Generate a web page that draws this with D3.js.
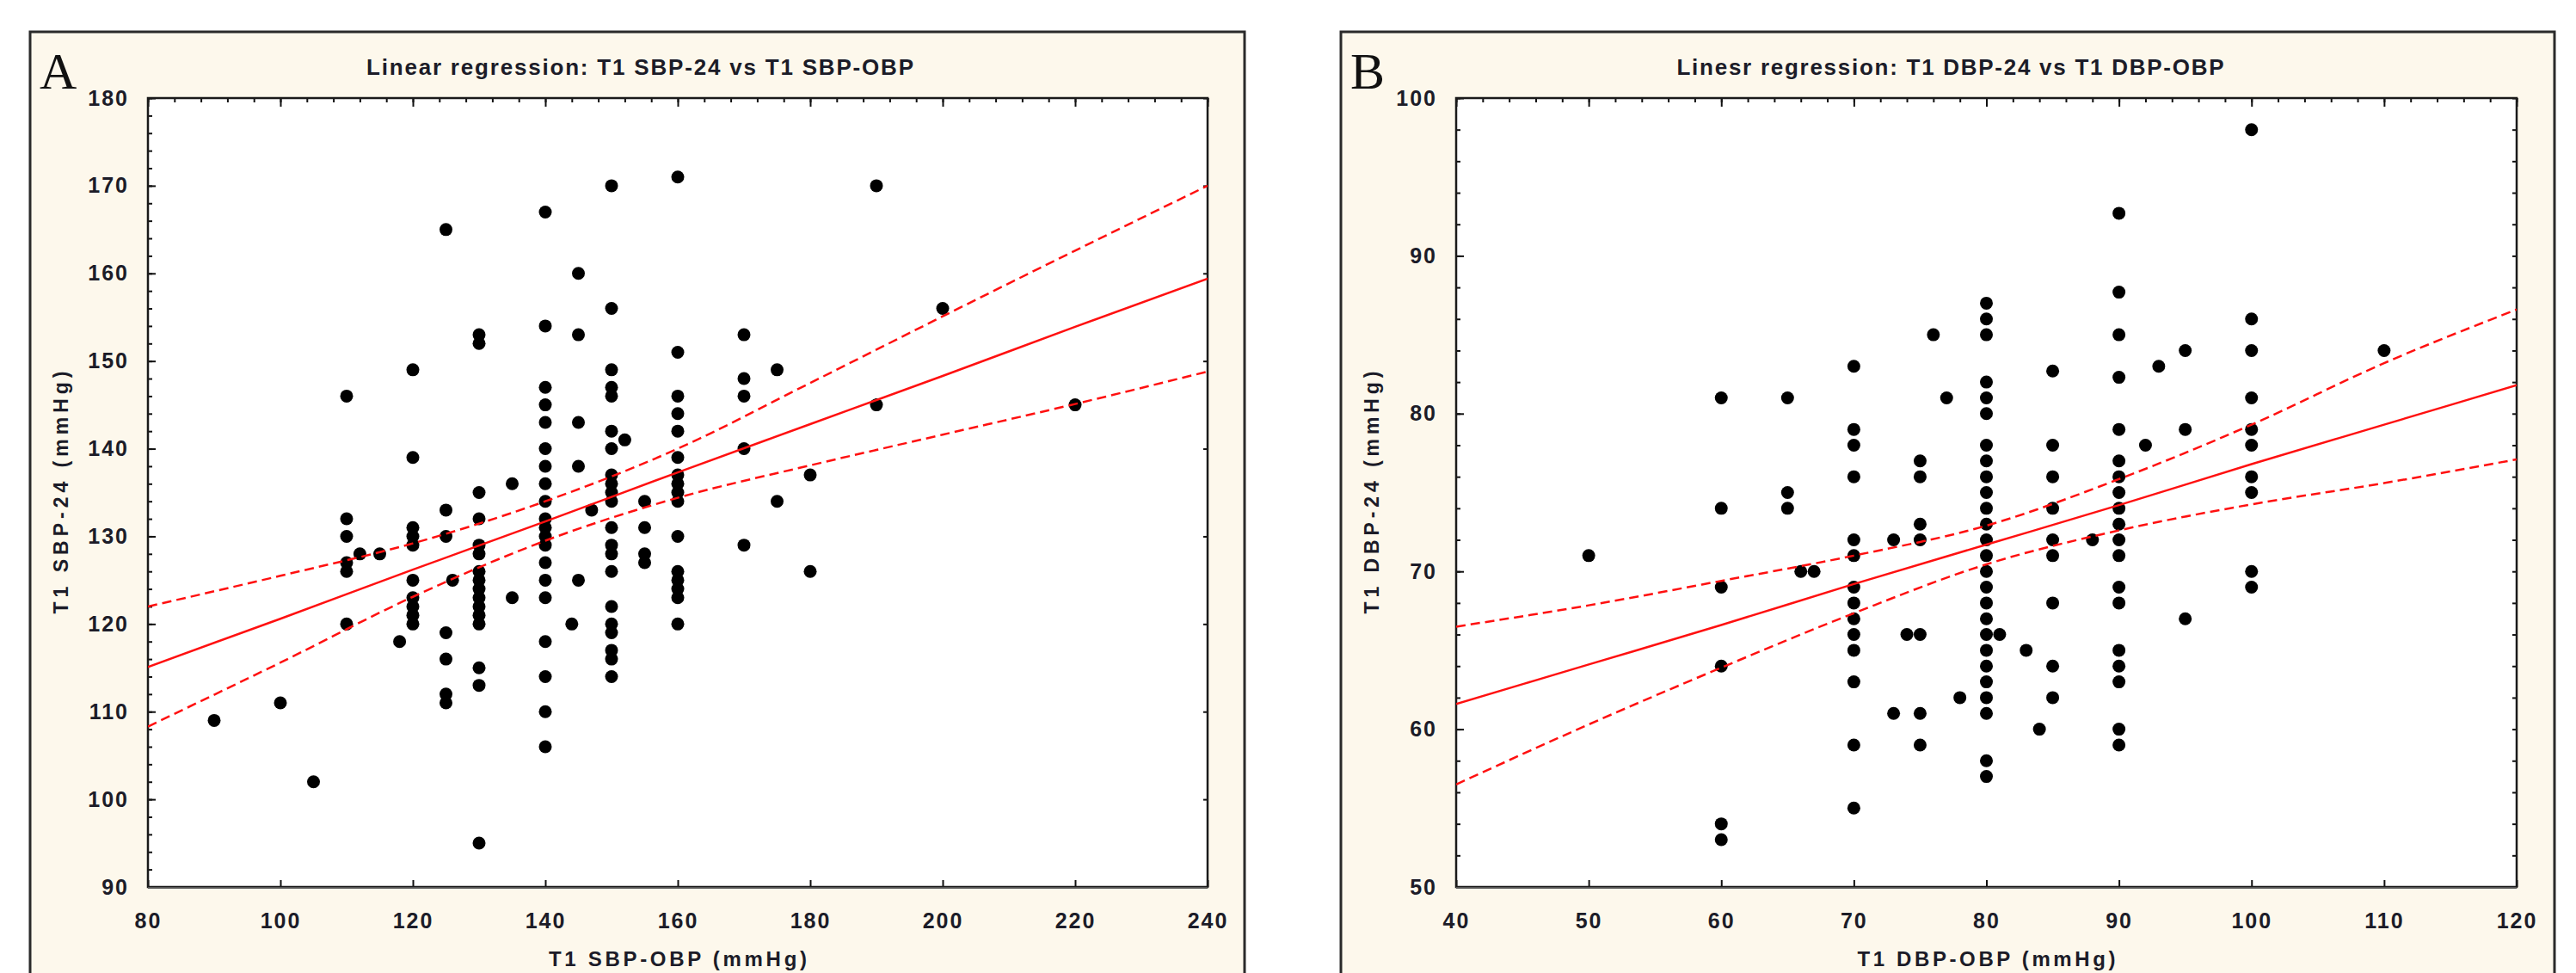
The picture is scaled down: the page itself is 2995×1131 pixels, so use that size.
<!DOCTYPE html>
<html>
<head>
<meta charset="utf-8">
<script src="https://cdn.jsdelivr.net/npm/d3@7"></script>
<style>
  body { margin: 0; background: #fff; }
  svg { display: block; }
</style>
</head>
<body>
<div id="my_dataviz"></div>
<script>
// ---- panel A : T1 SBP-OBP (x) vs T1 SBP-24 (y)
var sbpObp = [90,100,105,
  110,110,110,110,110,110,112,115,118,
  120,120,120,120,120,120,120,120,120,120,
  125,125,125,126,125,125,125,125,
  130,130,130,130,130,130,130,130,130,130,130,130,130,130,130,130,
  135,135,
  140,140,140,140,140,140,140,140,140,140,140,140,140,140,140,140,140,140,140,140,
  144,145,145,145,145,145,147,
  150,150,150,150,150,150,150,150,150,150,150,150,150,150,150,150,150,150,150,150,150,
  152,155,155,155,155,
  160,160,160,160,160,160,160,160,160,160,160,160,160,160,160,160,
  170,170,170,170,170,175,175,180,180,190,190,200,220];
var sbp24 = [109,111,102,
  146,132,130,127,126,120,128,128,118,
  149,139,131,130,129,125,123,122,121,120,
  165,133,130,125,119,116,112,111,
  153,152,135,132,129,128,126,125,124,123,122,121,120,115,113,95,
  136,123,
  167,154,147,145,143,140,138,136,134,132,131,130,129,127,125,123,118,114,110,106,
  120,160,153,143,138,125,133,
  170,156,149,147,146,142,140,137,136,135,134,131,129,128,126,122,120,119,117,116,114,
  141,134,131,128,127,
  171,151,146,144,142,139,137,136,135,134,130,126,125,124,123,120,
  153,148,146,140,129,149,134,137,126,170,145,156,145];

// regression line and 95% band
var sbpLineX = [80,100,120,140,160,180,200,220,240];
var sbpFit   = [115.1,120.6,126.2,131.7,137.3,142.8,148.3,153.9,159.4];
var sbpUpper = [122.0,125.5,129.2,134.0,140.0,147.5,155.1,162.6,170.0];
var sbpLower = [108.3,115.6,123.1,129.5,134.4,138.1,141.6,145.1,148.8];

var sbpXTicks = [80,100,120,140,160,180,200,220,240];
var sbpYTicks = [90,100,110,120,130,140,150,160,170,180];

// ---- panel B : T1 DBP-OBP (x) vs T1 DBP-24 (y)
var dbpObp = [50,
  60,60,60,60,60,60,65,65,65,66,67,
  70,70,70,70,70,70,70,70,70,70,70,70,70,70,
  73,73,74,75,75,75,75,75,75,75,76,77,78,
  80,80,80,80,80,80,80,80,80,80,80,80,80,80,80,80,80,80,80,80,80,80,80,80,80,80,
  81,83,84,
  85,85,85,85,85,85,85,85,85,88,
  90,90,90,90,90,90,90,90,90,90,90,90,90,90,90,90,90,90,90,
  92,93,95,95,95,
  100,100,100,100,100,100,100,100,100,100,110];
var dbp24 = [71,
  81,74,69,64,54,53,81,75,74,70,70,
  83,79,78,76,72,71,69,68,67,66,65,63,59,55,
  72,61,66,77,76,73,72,66,61,59,85,81,62,
  87,86,85,82,81,80,78,77,76,75,74,73,72,71,70,69,68,67,66,65,64,63,62,61,58,57,
  66,65,60,
  82.7,78,76,74,72,71,68,64,62,72,
  92.7,87.7,85,82.3,79,77,76,75,74,73,72,71,69,68,65,64,63,60,59,
  78,83,84,79,67,
  98,86,84,81,79,78,76,75,70,69,84];

var dbpLineX = [40,50,60,70,80,90,100,110,120];
var dbpFit   = [61.6,64.1,66.6,69.2,71.7,74.2,76.8,79.3,81.8];
var dbpUpper = [66.5,67.85,69.4,71.0,72.9,75.85,79.3,83.2,86.6];
var dbpLower = [56.5,60.3,63.9,67.35,70.45,72.6,74.25,75.6,77.1];

var dbpXTicks = [40,50,60,70,80,90,100,110,120];
var dbpYTicks = [50,60,70,80,90,100];

// ---- page
var W = 2995, H = 1131;
var plotTop = 114, plotBottom = 1031;
var labelFont = "'Liberation Sans', Arial, sans-serif";

var svg = d3.select("#my_dataviz")
    .append("svg")
    .attr("width", W)
    .attr("height", H);

svg.append("rect").attr("width", W).attr("height", H).attr("fill", "#fff");

function drawPanel(p) {
    // frame
    svg.append("rect")
        .attr("x", p.frameLeft).attr("y", 37)
        .attr("width", p.frameRight - p.frameLeft)
        .attr("height", 1200)
        .attr("fill", "#fdf8ec")
        .attr("stroke", "#2a2a2a")
        .attr("stroke-width", 3);

    var x = d3.scaleLinear().domain(p.xDomain).range([p.left, p.right]);
    var y = d3.scaleLinear().domain(p.yDomain).range([plotBottom, plotTop]);

    svg.append("rect")
        .attr("x", p.left).attr("y", plotTop)
        .attr("width", p.right - p.left)
        .attr("height", plotBottom - plotTop)
        .attr("fill", "#fff");

    // panel letter
    svg.append("text")
        .attr("x", p.frameLeft + 11).attr("y", 103)
        .style("font-family", "'Liberation Serif', 'Times New Roman', serif")
        .style("font-size", "60px")
        .attr("fill", "#111")
        .text(p.letter);

    // title
    svg.append("text")
        .attr("x", (p.frameLeft + p.frameRight) / 2 + 3).attr("y", 87)
        .attr("text-anchor", "middle")
        .attr("textLength", 636).attr("lengthAdjust", "spacing")
        .style("font-family", labelFont)
        .style("font-size", "26px").style("font-weight", "bold")
        .attr("fill", "#1c1c28")
        .text(p.title);

    // axes (ticks point inward)
    function styleAxis(g) {
        g.select(".domain").remove();
        g.selectAll(".tick line").attr("stroke", "#111").attr("stroke-width", 2);
        g.selectAll("text")
            .style("font-family", labelFont)
            .style("font-size", "25px").style("font-weight", "bold")
            .style("letter-spacing", "2px")
            .attr("fill", "#1c1c28");
    }

    svg.append("g").attr("transform", "translate(0," + plotBottom + ")")
        .call(d3.axisBottom(x).tickValues(p.xTicks).tickSize(-8).tickPadding(30).tickSizeOuter(0))
        .call(styleAxis);
    svg.append("g").attr("transform", "translate(" + p.left + ",0)")
        .call(d3.axisLeft(y).tickValues(p.yTicks).tickSize(-9).tickPadding(22).tickSizeOuter(0))
        .call(styleAxis);
    svg.append("g").attr("transform", "translate(" + p.left + ",0)")
        .call(d3.axisLeft(y).tickValues(p.yMinorLeft).tickSize(-5).tickFormat("").tickSizeOuter(0))
        .call(styleAxis);
    svg.append("g").attr("transform", "translate(0," + plotTop + ")")
        .call(d3.axisTop(x).tickValues(p.xTicks).tickSize(-10).tickFormat("").tickSizeOuter(0))
        .call(styleAxis);
    svg.append("g").attr("transform", "translate(0," + plotTop + ")")
        .call(d3.axisTop(x).tickValues(p.xMinorTop).tickSize(-5).tickFormat("").tickSizeOuter(0))
        .call(styleAxis);
    svg.append("g").attr("transform", "translate(" + p.right + ",0)")
        .call(d3.axisRight(y).tickValues(p.yMinorRight).tickSize(-5).tickFormat("").tickSizeOuter(0))
        .call(styleAxis);

    // plot border
    svg.append("rect")
        .attr("x", p.left).attr("y", plotTop)
        .attr("width", p.right - p.left)
        .attr("height", plotBottom - plotTop)
        .attr("fill", "none")
        .attr("stroke", "#1a1a1a")
        .attr("stroke-width", 2.5);
    svg.append("line")
        .attr("x1", p.left).attr("x2", p.right)
        .attr("y1", plotBottom + 1).attr("y2", plotBottom + 1)
        .attr("stroke", "#555").attr("stroke-width", 2);

    // axis titles
    svg.append("text")
        .attr("transform", "translate(" + (p.frameLeft + 44) + "," + ((plotTop + plotBottom) / 2) + ") rotate(-90)")
        .attr("text-anchor", "middle")
        .attr("textLength", 282).attr("lengthAdjust", "spacing")
        .style("font-family", labelFont)
        .style("font-size", "23px").style("font-weight", "bold")
        .attr("fill", "#1c1c28")
        .text(p.yTitle);
    svg.append("text")
        .attr("x", (p.left + p.right) / 2).attr("y", 1123)
        .attr("text-anchor", "middle")
        .attr("textLength", 300).attr("lengthAdjust", "spacing")
        .style("font-family", labelFont)
        .style("font-size", "24px").style("font-weight", "bold")
        .attr("fill", "#1c1c28")
        .text(p.xTitle);

    // points
    var clipId = "clip" + p.letter;
    svg.append("clipPath").attr("id", clipId)
        .append("rect")
        .attr("x", p.left).attr("y", plotTop)
        .attr("width", p.right - p.left)
        .attr("height", plotBottom - plotTop);

    var g = svg.append("g").attr("clip-path", "url(#" + clipId + ")");

    g.selectAll("circle")
        .data(p.xs.map(function(d, i) { return [d, p.ys[i]]; }))
        .enter()
        .append("circle")
        .attr("cx", function(d) { return x(d[0]); })
        .attr("cy", function(d) { return y(d[1]); })
        .attr("r", 7.5)
        .attr("fill", "#000");

    // regression line + confidence band
    var line = d3.line()
        .x(function(d) { return x(d[0]); })
        .y(function(d) { return y(d[1]); })
        .curve(d3.curveMonotoneX);

    [[p.fit, null], [p.upper, "11,6"], [p.lower, "11,6"]].forEach(function(s) {
        g.append("path")
            .datum(p.lineX.map(function(v, i) { return [v, s[0][i]]; }))
            .attr("d", line)
            .attr("fill", "none")
            .attr("stroke", "#ff1010")
            .attr("stroke-width", 2.5)
            .attr("stroke-dasharray", s[1]);
    });
}

drawPanel({
    letter: "A", frameLeft: 35, frameRight: 1447, left: 172, right: 1404,
    xDomain: [80, 240], yDomain: [90, 180],
    xTicks: sbpXTicks, yTicks: sbpYTicks,
    xMinorTop: d3.range(80, 241, 4), yMinorLeft: d3.range(90, 181, 2), yMinorRight: sbpYTicks,
    xs: sbpObp, ys: sbp24,
    lineX: sbpLineX, fit: sbpFit, upper: sbpUpper, lower: sbpLower,
    title: "Linear regression: T1 SBP-24 vs T1 SBP-OBP",
    xTitle: "T1 SBP-OBP (mmHg)", yTitle: "T1 SBP-24 (mmHg)"
});

drawPanel({
    letter: "B", frameLeft: 1559, frameRight: 2970, left: 1693, right: 2926,
    xDomain: [40, 120], yDomain: [50, 100],
    xTicks: dbpXTicks, yTicks: dbpYTicks,
    xMinorTop: d3.range(40, 121, 2), yMinorLeft: d3.range(50, 101, 2), yMinorRight: d3.range(50, 101, 2),
    xs: dbpObp, ys: dbp24,
    lineX: dbpLineX, fit: dbpFit, upper: dbpUpper, lower: dbpLower,
    title: "Linesr regression: T1 DBP-24 vs T1 DBP-OBP",
    xTitle: "T1 DBP-OBP (mmHg)", yTitle: "T1 DBP-24 (mmHg)"
});
</script>
</body>
</html>
